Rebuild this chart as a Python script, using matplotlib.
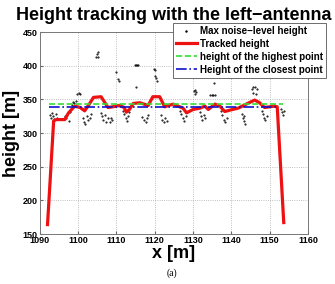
import matplotlib
matplotlib.use("Agg")
import matplotlib.pyplot as plt

# tracked height (red)
track_x = [1092.0, 1093.6, 1094.3, 1096.5, 1097.5, 1099.1, 1100.5, 1101.7, 1102.8, 1104.0,
           1106.0, 1107.0, 1107.8, 1109.0, 1110.9, 1112.0, 1112.6, 1113.4, 1114.4, 1116.1,
           1118.3, 1119.5, 1121.3, 1122.6, 1124.8, 1127.4, 1128.3, 1130.0, 1131.8, 1133.1,
           1134.0, 1135.7, 1137.0, 1138.3, 1139.6, 1141.8, 1143.9, 1146.1, 1147.4, 1148.7,
           1150.0, 1151.4, 1152.0, 1153.7]
track_y = [164, 318, 320, 320, 330, 340, 338, 333, 342, 353,
           354, 345, 338, 339, 341, 338, 331, 335, 344, 345,
           341, 354, 354, 339, 343, 337, 330, 335, 337, 340,
           335, 343, 340, 332, 334, 337, 343, 349, 345, 338,
           339, 340, 339, 167]

# max noise-level height (black dots)
noise_x = [1092.6, 1092.9, 1093.2, 1093.5, 1093.8, 1094.1, 1094.4,
           1096.6, 1096.9, 1097.2, 1097.5, 1097.8,
           1098.4, 1098.7, 1099.0, 1099.4, 1099.8, 1100.1, 1100.4,
           1101.2, 1101.5, 1101.8, 1102.2, 1102.6, 1103.0, 1103.3,
           1104.7, 1105.0, 1105.3, 1105.2,
           1105.9, 1106.3, 1106.6, 1107.0, 1107.4, 1107.7,
           1108.2, 1108.5, 1108.9,
           1110.0, 1110.3, 1110.6,
           1111.8, 1112.1, 1112.4, 1112.7, 1113.0, 1113.3,
           1114.8, 1115.1, 1115.4, 1115.6, 1115.2,
           1116.8, 1117.2, 1117.6, 1117.9, 1118.3,
           1119.8, 1120.2, 1120.0, 1120.3, 1120.6,
           1121.7, 1122.0, 1122.4, 1122.8, 1123.2,
           1126.5, 1126.9, 1127.3, 1127.7, 1128.1,
           1130.2, 1130.6, 1130.9, 1130.5,
           1131.7, 1132.0, 1132.4, 1132.8, 1133.2,
           1134.5, 1134.9, 1135.3, 1135.7, 1135.5,
           1137.3, 1137.7, 1138.1, 1138.4, 1138.8,
           1142.8, 1143.1, 1143.4, 1143.7, 1143.2,
           1145.4, 1145.8, 1146.2, 1146.6, 1145.6, 1146.4,
           1148.0, 1148.3, 1148.6, 1148.9, 1149.2,
           1152.9, 1153.2, 1153.5, 1153.8]
noise_y = [327, 323, 330, 325, 321, 328, 322,
           325, 322, 328, 318, 331,
           342, 346, 344, 348, 358, 360, 358,
           322, 316, 313, 326, 319, 322, 329,
           413, 417, 413, 420,
           330, 325, 320, 327, 317, 323,
           316, 322, 319,
           391, 380, 377,
           333, 329, 322, 318, 325, 331,
           401, 401, 401, 401, 369,
           324, 320, 316, 322, 327,
           395, 393, 385, 382, 378,
           327, 320, 316, 323, 318,
           333, 329, 323, 318, 325,
           362, 364, 361, 358,
           331, 325, 320, 327, 322,
           357, 357, 357, 357, 374,
           333, 327, 320, 316, 323,
           328, 322, 318, 313, 325,
           366, 368, 368, 366, 360, 358,
           333, 328, 323, 319, 326,
           336, 331, 327, 333]

# reference heights
highest_x = [1092.5, 1153.5]
highest_y = [343, 343]
closest_x = [1092.5, 1152.0]
closest_y = [338, 338]

xticks = list(range(1090, 1161, 10))
yticks = list(range(150, 451, 50))

plt.rcParams['font.family'] = ['Liberation Sans', 'DejaVu Sans']

fig = plt.figure(figsize=(3.35, 2.84), dpi=100)
ax = fig.add_axes([0.119, 0.176, 0.8, 0.711])

ax.plot(noise_x, noise_y, '.', color='black', markersize=1.0, label="Max noise\u2212level height")
ax.plot(track_x, track_y, '-', color='#ee1111', linewidth=2.3, label="Tracked height")
ax.plot(highest_x, highest_y, '--', color='#33dd33', linewidth=1.2, label="height of the highest point")
ax.plot(closest_x, closest_y, '-.', color='#1111cc', linewidth=1.2, label="Height of the closest point")

ax.set_xlim(1090, 1160)
ax.set_ylim(150, 450)
ax.set_xticks(xticks)
ax.set_yticks(yticks)
ax.tick_params(direction='in', length=2, labelsize=6.5, pad=1.5, color='#666666')
for lab in ax.get_xticklabels() + ax.get_yticklabels():
    lab.set_fontweight('bold')
ax.grid(True, linestyle=':', color='#aaaaaa', linewidth=0.6)
for sp in ax.spines.values():
    sp.set_color('#777777')
    sp.set_linewidth(0.7)

ax.set_title("Height tracking with the left\u2212antenna", fontsize=13, fontweight='bold', pad=9)
ax.set_xlabel("x [m]", fontsize=13, fontweight='bold', labelpad=0)
ax.set_ylabel("height [m]", fontsize=13, fontweight='bold', labelpad=2)

leg = ax.legend(loc='upper left', bbox_to_anchor=(0.516, 0.919), bbox_transform=fig.transFigure,
                prop={'size': 7, 'weight': 'bold'}, fancybox=False, borderaxespad=0,
                handlelength=2.2, handletextpad=0.3, labelspacing=0.3, borderpad=0.3,
                framealpha=1, markerscale=1.5)
leg.get_frame().set_edgecolor('#555555')
leg.get_frame().set_linewidth(0.6)

fig.text(0.514, 0.02, "(a)", fontsize=7, family='Liberation Serif', ha='center', va='bottom')

fig.savefig("out.png", dpi=100)
